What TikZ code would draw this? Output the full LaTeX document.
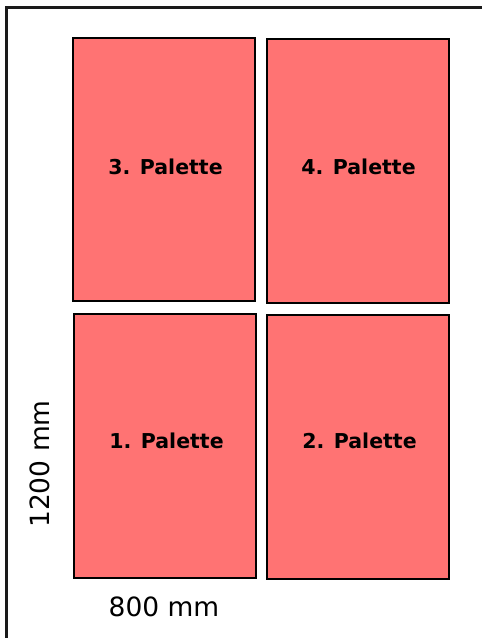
\documentclass[tikz,border=0pt]{standalone}
\usepackage{fontspec}
\setmainfont{DejaVu Sans}
\definecolor{palfill}{HTML}{FF7373}
\definecolor{framecol}{HTML}{1A1A1A}
\tikzset{
  pal/.style={draw=black, line width=1.6pt, fill=palfill, inner sep=0pt, anchor=north west},
  pallbl/.style={font=\fontsize{20.5}{24}\selectfont\bfseries, text=black, inner sep=0pt},
  dimlbl/.style={font=\fontsize{26.5}{30}\selectfont, text=black, inner sep=0pt},
}
\begin{document}
\begin{tikzpicture}[x=1pt,y=-1pt]
\useasboundingbox (0,0) rectangle (482,638);
\begin{scope}
\clip (0,0) rectangle (482,638);
\draw[framecol, line width=2.2pt] (6.5,7.5) rectangle (500,660);
\end{scope}
\node[pal, minimum width=182pt, minimum height=263pt] (p3) at (72,37) {};
\node[pal, minimum width=182pt, minimum height=264pt] (p4) at (266,38) {};
\node[pal, minimum width=182pt, minimum height=264pt] (p1) at (73,313) {};
\node[pal, minimum width=182pt, minimum height=264pt] (p2) at (266,314) {};
\node[pallbl] (l3) at (165.5,167) {3. Palette};
\node[pallbl] (l4) at (358.5,167) {4. Palette};
\node[pallbl] (l1) at (166.5,441) {1. Palette};
\node[pallbl] (l2) at (359.5,441) {2. Palette};
\node[dimlbl] (w) at (164,607) {800 mm};
\node[dimlbl, rotate=90] (h) at (40,464) {1200 mm};
\end{tikzpicture}
\end{document}
